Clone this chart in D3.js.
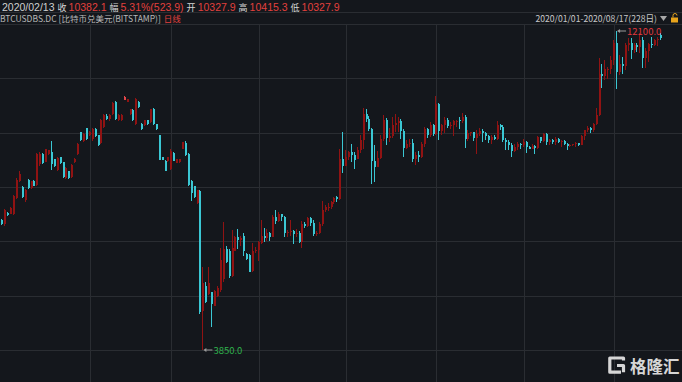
<!DOCTYPE html>
<html><head><meta charset="utf-8">
<script src="https://cdn.jsdelivr.net/npm/d3@7"></script>
<style>html,body{margin:0;padding:0;background:#14171c;overflow:hidden}</style>
</head><body><svg id="c" width="682" height="382"></svg>
<script>
// ---- categories ----
const rangeStart = "2020-01-01", rangeEnd = "2020-08-17";
const missingDays = ["2020-02-29", "2020-03-08"];
// ---- series (Jan / Feb / Mar / Apr / May / Jun / Jul / Aug) ----
const openP = [
 7230,7200,7100,7390,7380,7360,7780,8220,8060,7720,8250,8040,8220,8120,8660,8930,8720,8920,8960,8780,8510,8830,8700,8300,8470,8330,8700,8930,9480,9250,9590,
 9400,9300,9560,9400,9200,9620,9900,9830,9950,10260,9790,9800,10327.9,10270,9950,10060,9690,10270,9690,9660,9790,9740,10080,9690,9400,8830,8740,8740,
 8520,8940,8690,8700,9060,9200,8930,8230,8080,7640,7960,4850,5500,5290,5340,5000,5250,5400,5680,6470,6420,5770,6420,6760,6690,6800,6340,6300,5900,6400,
 6430,6610,6800,6740,6870,6780,7290,7180,7360,7300,6870,6890,6930,6840,6870,6640,7120,7050,7260,7130,6850,6880,7120,7480,7540,7560,7680,7800,7760,8780,
 8620,8840,8980,8900,8800,9010,9270,9960,9820,9560,8730,8590,8810,9300,9790,9320,9380,9680,9720,9760,9520,9070,9180,9200,8780,8900,8840,9190,9560,9420,9680,
 9440,10200,9520,9660,9800,9650,9670,9760,9800,9770,9880,9300,9470,9480,9340,9430,9520,9450,9380,9290,9350,9300,9680,9620,9280,9240,9160,9000,9110,9190,
 9140,9230,9090,9060,9130,9080,9350,9250,9440,9240,9290,9240,9300,9240,9250,9190,9130,9150,9170,9200,9160,9390,9530,9600,9540,9690,9930,10990,10930,11110,11120,
 11350,11780,11050,11250,11200,11750,11780,11600,11750,11680,11880,11400,11580,11770,11750,11860,12000];
const highP = [
 7260,7230,7490,7420,7540,7860,8290,8480,8080,8010,8280,8230,8240,8950,8960,8950,9060,9030,9250,8800,8840,8850,8720,8580,8490,8650,8820,9200,9500,9450,9600,
 9520,9600,9600,9420,9830,9950,9950,9960,10260,10280,9960,9960,10415.3,10340,10090,10080,10360,10290,9710,9800,9810,10090,10100,9700,9420,8850,8760,8840,
 9050,8960,8800,8800,9230,9250,8950,8250,8100,8000,7990,6000,5600,5990,5360,5400,5510,6480,7150,6550,6450,6950,6800,6980,6800,6880,6360,6320,6620,6520,
 6680,7200,7000,6990,6900,7350,7460,7420,7380,7310,6950,7200,6950,6980,6920,7190,7150,7300,7280,7200,6920,7150,7700,7600,7650,7700,7800,7820,9050,9480,
 9020,9000,9190,8960,9100,9400,10100,10070,9900,9580,9150,8990,9400,9920,9850,9580,9880,9960,9880,9830,9570,9270,9310,9310,8980,9000,9220,9620,9600,9740,9700,
 10430,10230,9690,9880,9850,9740,9800,9800,9880,9990,9930,9550,9500,9490,9530,9590,9560,9480,9400,9400,9420,9780,9700,9670,9330,9290,9200,9180,9230,9200,
 9300,9260,9130,9180,9140,9380,9370,9470,9450,9310,9300,9350,9340,9280,9270,9210,9180,9190,9220,9210,9420,9540,9650,9630,9720,10100,11400,11250,11350,11180,11460,
 11880,12100,11480,11420,11800,11920,11920,11800,11800,12050,11940,11650,11800,11950,11900,11950,12040];
const lowP = [
 7170,7080,7060,7310,7360,7340,7750,8200,7790,7690,8020,8020,8080,8100,8600,8650,8700,8900,8510,8570,8490,8660,8300,8280,8260,8310,8680,8900,9260,9230,9280,
 9380,9250,9350,9130,9180,9600,9800,9780,9930,9800,9780,9780,10327.9,10260,9930,9780,9680,10120,9540,9640,9680,9720,9680,9540,8760,8760,8480,8720,
 8500,8740,8680,8690,9040,8880,8100,7700,7780,7620,4780,3850,5060,5270,4450,4980,5230,5350,5600,6100,5700,5740,6400,6470,6550,6280,6180,5860,5860,6350,
 6160,6590,6650,6680,6680,6770,7100,7160,7180,6780,6770,6800,6580,6780,6610,6480,7010,7030,7060,6800,6800,6860,7050,7420,7450,7500,7630,7690,7740,8420,
 8600,8760,8700,8530,8780,8950,9040,9740,9520,8150,8200,8570,8790,9260,9140,9240,9340,9500,9500,9300,8850,9040,9100,8700,8630,8700,8810,9110,9340,9360,9390,
 9420,9280,9400,9460,9590,9560,9390,9630,9560,9720,9070,9250,9390,9250,8920,9380,9240,9280,9200,9180,9270,9280,9550,9220,9010,9030,8850,8960,9020,9060,
 9100,8950,9040,9050,8930,9060,9200,9220,9150,9140,9190,9160,9200,9100,9160,9010,9090,9120,9100,9130,9150,9290,9480,9450,9500,9660,9910,10620,10840,10850,10990,
 11220,10600,10950,11000,11100,11580,11380,11530,11560,11530,11150,11150,11300,11650,11700,11700,11880];
const closeP = [
 7200,7100,7460,7340,7510,7830,8250,8400,7810,7990,8040,8210,8100,8920,8920,8680,9040,9010,8670,8600,8820,8680,8330,8560,8290,8630,8800,9180,9290,9430,9300,
 9480,9560,9380,9150,9810,9920,9830,9920,10240,9820,9940,9940,10382.1,10330,10080,9800,10350,10140,9560,9790,9690,10080,9690,9560,8770,8770,8490,8830,
 9000,8750,8780,8780,9220,8900,8120,7900,7800,7980,4820,5590,5090,5580,5030,5380,5460,6190,6470,6130,5760,6500,6780,6690,6740,6420,6210,5870,6400,6440,
 6650,6800,6740,6870,6780,7290,7180,7360,7300,6870,6890,6930,6850,6870,6640,7120,7050,7260,7130,6850,6880,7120,7480,7540,7560,7680,7780,7760,8780,8620,
 8840,8980,8890,8760,9010,9270,9960,9820,9560,8730,8590,8810,9300,9790,9320,9380,9680,9730,9760,9520,9070,9180,9200,8780,8900,8840,9190,9560,9420,9680,9440,
 10200,9520,9660,9800,9650,9670,9760,9780,9760,9880,9300,9470,9480,9340,9430,9520,9450,9380,9290,9350,9300,9680,9620,9280,9240,9160,9000,9110,9190,9140,
 9230,9090,9060,9130,9080,9350,9250,9440,9240,9290,9240,9300,9240,9250,9190,9130,9150,9170,9200,9160,9390,9530,9600,9540,9690,9930,10990,10930,11110,11120,11350,
 11780,11050,11250,11200,11750,11780,11600,11750,11680,11880,11400,11580,11770,11750,11860,11900,11920];
// ---- texts ----
const headerDate = "2020/02/13";
const headerLabels = ["收","幅","开","高","低"];
const headerValues = ["10382.1","5.31%(523.9)","10327.9","10415.3","10327.9"];
const symbolText = "BTCUSDBS.DC [比特币兑美元(BITSTAMP)]";
const periodText = "日线";
const rangeText = "2020/01/01-2020/08/17(228日)";
const brandText = "格隆汇";
const selectedDay = "2020-02-13";

const W = 682, H = 382;
const CJK = "'Noto Sans CJK SC','Noto Sans',sans-serif";
const LAT = "'Liberation Sans','Noto Sans CJK SC',sans-serif";
const fmt = d3.timeFormat("%Y-%m-%d");
const parse = d3.timeParse("%Y-%m-%d");
const dates = d3.timeDay.range(parse(rangeStart), d3.timeDay.offset(parse(rangeEnd), 1))
  .filter(d => !missingDays.includes(fmt(d)));
const data = dates.map((d, i) => ({d, o: openP[i], h: highP[i], l: lowP[i], c: closeP[i]}));

const svg = d3.select("#c");
svg.append("rect").attr("width", W).attr("height", H).attr("fill", "#14171c");

const plotTop = 24, plotBottom = 350;
const x = d3.scaleBand().domain(dates).range([-1.96, 662.2]);
const bw = x.bandwidth();
const cx = d => x(d) + bw / 2;
const y = d3.scaleLinear().domain([d3.min(lowP), d3.max(highP)]).range([350, 31]);

const grid = svg.append("g").attr("stroke", "#2a2d32").attr("stroke-width", 1).attr("shape-rendering", "crispEdges");
grid.append("line").attr("x1", 0).attr("x2", W).attr("y1", 12.5).attr("y2", 12.5);
d3.range(0, 7).forEach(k => {
  const yy = Math.round(plotTop + k * (plotBottom - plotTop) / 6) + 0.5;
  grid.append("line").attr("x1", 0).attr("x2", W).attr("y1", yy).attr("y2", yy);
});
dates.filter(d => d.getDate() === 1 && d.getMonth() > 0).forEach(d => {
  const xx = Math.round(cx(d)) + 0.5;
  grid.append("line").attr("x1", xx).attr("x2", xx).attr("y1", plotTop).attr("y2", H);
});

// candles
const UP = "#901313", DOWN = "#3bc7d3", SEL = "#e0474a";
const cg = svg.append("g").attr("shape-rendering", "crispEdges");
data.forEach(r => {
  const up = r.c >= r.o;
  const col = fmt(r.d) === selectedDay ? SEL : (up ? UP : DOWN);
  const xc = cx(r.d);
  const bx = Math.round(xc - 1);
  cg.append("rect").attr("x", bx).attr("width", 1)
    .attr("y", y(r.h)).attr("height", Math.max(1, y(r.l) - y(r.h))).attr("fill", col);
  const top = y(Math.max(r.o, r.c)), bot = y(Math.min(r.o, r.c));
  cg.append("rect").attr("x", bx).attr("width", 2)
    .attr("y", top).attr("height", Math.max(1, bot - top)).attr("fill", col);
});

// max / min markers
const iMax = d3.maxIndex(highP), iMin = d3.minIndex(lowP);
function marker(i, v, color) {
  const x0 = cx(dates[i]), yy = y(v);
  const g = svg.append("g");
  g.append("line").attr("x1", x0 + 2).attr("x2", x0 + 9).attr("y1", yy).attr("y2", yy)
    .attr("stroke", "#9a9a9a").attr("stroke-width", 1);
  g.append("path").attr("d", `M${x0},${yy} l3,-2 v4 z`).attr("fill", "#9a9a9a");
  g.append("text").attr("x", x0 + 10).attr("y", yy + 1).attr("dy", "0.36em")
    .attr("font-family", CJK).attr("font-size", 9.5).attr("fill", color).text(v.toFixed(1));
}
marker(iMax, highP[iMax], "#e0393e");
marker(iMin, lowP[iMin], "#2fb34c");

// header row 1 (flowed segment by segment)
let cursor = 2;
function seg(txt, fam, size, color, gapBefore, yy) {
  cursor += gapBefore;
  const t = svg.append("text").attr("x", cursor).attr("y", yy)
    .attr("font-family", fam).attr("font-size", size).attr("fill", color).text(txt);
  cursor += t.node().getComputedTextLength();
}
seg(headerDate, LAT, 10.5, "#cfcfcf", 0, 10.5);
headerLabels.forEach((lab, i) => {
  seg(lab, CJK, 9, "#d6d6d6", 3, 10.5);
  seg(headerValues[i], LAT, 10.5, "#e2403d", 2, 10.5);
});
// header row 2
const t2 = svg.append("text").attr("x", 0).attr("y", 22).attr("font-family", CJK).attr("font-size", 8.5);
t2.append("tspan").attr("fill", "#b8b8b8").text(symbolText);
t2.append("tspan").attr("dx", 3).attr("fill", "#e2403d").text(periodText);
svg.append("text").attr("x", 657).attr("y", 22).attr("text-anchor", "end")
  .attr("font-family", CJK).attr("font-size", 8.6).attr("fill", "#c8c8c8").text(rangeText);
svg.append("path").attr("d", "M660,16 h7 l-3.5,5 z").attr("fill", "#a8a8a8");
svg.append("rect").attr("x", 671).attr("y", 17.5).attr("width", 7).attr("height", 5).attr("fill", "#e8a41c");
svg.append("path").attr("d", "M673,17.5 v-2 a2,2 0 0 1 4,0").attr("stroke", "#e8a41c").attr("fill", "none").attr("stroke-width", 1);

// watermark
const wm = svg.append("g").attr("fill", "none").attr("stroke", "#d6d6d6").attr("stroke-width", 3.2).attr("stroke-linejoin", "round");
wm.append("path").attr("d", "M623.5,360.5 V358 H609.8 V372.2 H621 M617,365.5 H623.5 V372.2");
svg.append("text").attr("x", 630).attr("y", 373).attr("font-family", CJK).attr("font-size", 16.5)
  .attr("font-weight", "bold").attr("fill", "#d6d6d6").text(brandText);
</script></body></html>
